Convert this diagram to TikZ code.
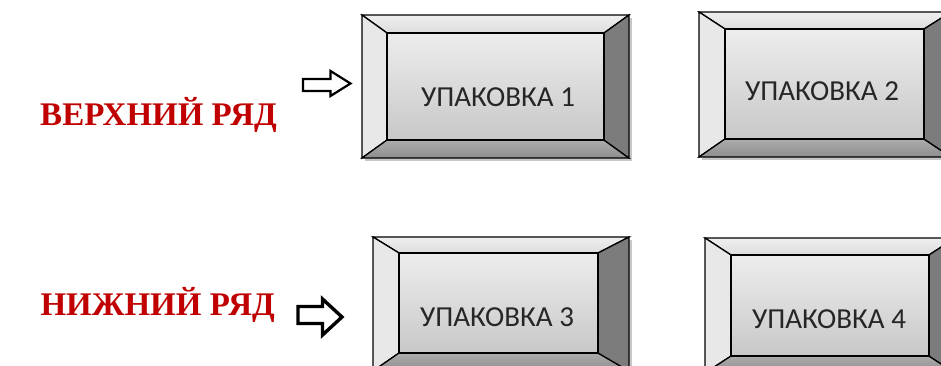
\documentclass[tikz,border=0pt]{standalone}
\usepackage{fontspec}
\setmainfont{Liberation Serif}
\newfontfamily\boxfont{Carlito}
\definecolor{rowred}{HTML}{C00000}
\definecolor{bevtopA}{HTML}{EFEFEF}
\definecolor{bevtopB}{HTML}{DDDDDD}
\definecolor{bevleft}{HTML}{E8E8E8}
\definecolor{bevbotA}{HTML}{ACACAC}
\definecolor{bevbotB}{HTML}{8E8E8E}
\definecolor{bevright}{HTML}{7C7C7C}
\definecolor{faceA}{HTML}{EDEDED}
\definecolor{faceB}{HTML}{C8C8C8}
\tikzset{
  bevline/.style={draw=black, line width=1.3pt, line join=miter},
  rowlabel/.style={text=rowred, font=\bfseries\fontsize{33}{36}\selectfont, anchor=base east, inner sep=0pt},
  boxlabel/.style={font=\boxfont\fontsize{29}{32}\selectfont, text=black!85, anchor=base, inner sep=0pt},
  outarrow/.style={draw=black, fill=white, line join=miter},
}
% #1..#4 outer x1 y1 x2 y2, #5..#8 inner a1 b1 a2 b2
\newcommand\pbox[8]{%
  \fill[black!22] (#1+3,#2+3) rectangle (#3+3,#4+3);
  \shade[top color=bevtopA, bottom color=bevtopB, bevline] (#1,#2) -- (#3,#2) -- (#7,#6) -- (#5,#6) -- cycle;
  \fill[bevleft, bevline] (#1,#2) -- (#5,#6) -- (#5,#8) -- (#1,#4) -- cycle;
  \shade[top color=bevbotA, bottom color=bevbotB, bevline] (#1,#4) -- (#5,#8) -- (#7,#8) -- (#3,#4) -- cycle;
  \fill[bevright, bevline] (#3,#2) -- (#3,#4) -- (#7,#8) -- (#7,#6) -- cycle;
  \shade[top color=faceA, bottom color=faceB, bevline] (#5,#6) rectangle (#7,#8);
}
\begin{document}
\begin{tikzpicture}[x=1pt,y=-1pt]
\useasboundingbox (0,0) rectangle (941,365);
\fill[white] (0,0) rectangle (941,365);
\begin{scope}
\clip (0,0) rectangle (941,365);
\pbox{362}{15}{629}{158}{387}{33}{604}{140}
\pbox{699}{12}{951}{157}{725}{29}{924}{139}
\pbox{373}{237}{629}{371}{399}{253}{598}{353}
\pbox{705}{238}{955}{373}{731}{255}{929}{356}
\node[boxlabel] (p1) at (498,106) {УПАКОВКА 1};
\node[boxlabel] (p2) at (822,100) {УПАКОВКА 2};
\node[boxlabel] (p3) at (497,326) {УПАКОВКА 3};
\node[boxlabel] (p4) at (829,328) {УПАКОВКА 4};
\end{scope}
\node[rowlabel] (top) at (277,125) {ВЕРХНИЙ РЯД};
\node[rowlabel] (bot) at (275,315) {НИЖНИЙ РЯД};
\draw[outarrow, line width=2.2pt] (303,79) -- (330.5,79) -- (330.5,71) -- (350.5,83.5) -- (330.5,96) -- (330.5,91) -- (303,91) -- cycle;
\draw[outarrow, line width=3.4pt] (298,306.5) -- (322.5,306.5) -- (322.5,299) -- (342,317) -- (322.5,335) -- (322.5,323.5) -- (298,323.5) -- cycle;
\end{tikzpicture}
\end{document}
